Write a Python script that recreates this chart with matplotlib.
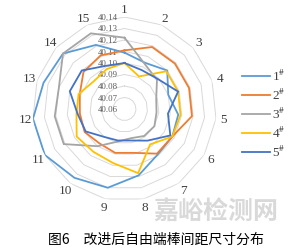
import numpy as np
import matplotlib
matplotlib.use("Agg")
import matplotlib.pyplot as plt
from matplotlib.lines import Line2D
from matplotlib.transforms import offset_copy

plt.rcParams['mathtext.fontset'] = 'stix'

categories = [str(i) for i in range(1, 16)]
series_names = ['1', '2', '3', '4', '5']
s1 = [40.109, 40.104, 40.110, 40.100, 40.107, 40.108, 40.109, 40.119, 40.130, 40.134, 40.140, 40.140, 40.134, 40.132, 40.121]
s2 = [40.111, 40.119, 40.119, 40.119, 40.119, 40.108, 40.108, 40.099, 40.099, 40.097, 40.100, 40.099, 40.101, 40.108, 40.111]
s3 = [40.122, 40.103, 40.098, 40.089, 40.088, 40.090, 40.089, 40.086, 40.089, 40.100, 40.121, 40.121, 40.120, 40.132, 40.132]
s4 = [40.100, 40.091, 40.109, 40.109, 40.109, 40.108, 40.098, 40.117, 40.108, 40.106, 40.108, 40.102, 40.102, 40.096, 40.098]
s5 = [40.100, 40.097, 40.099, 40.109, 40.098, 40.106, 40.094, 40.088, 40.088, 40.090, 40.099, 40.101, 40.110, 40.110, 40.101]
ring_values = [40.06, 40.07, 40.08, 40.09, 40.10, 40.11, 40.12, 40.13, 40.14]
colors = ['#5B9BD5', '#ED7D31', '#A5A5A5', '#FFC000', '#4472C4']
title = '图6\u3000改进后自由端棒间距尺寸分布'

W, H = 300, 253
fig = plt.figure(figsize=(W / 100, H / 100), dpi=100)
cx, cy, R = 124.5, 110, 92
ax = fig.add_axes([(cx - R) / W, 1 - (cy + R) / H, 2 * R / W, 2 * R / H], projection='polar')
ax.set_theta_zero_location('N')
ax.set_theta_direction(-1)
ax.set_ylim(ring_values[0], ring_values[-1])
ax.grid(False)
ax.spines['polar'].set_visible(False)
ax.set_xticks([])
ax.set_yticks([])
ax.patch.set_alpha(0)

n = len(categories)
theta = np.arange(n) * 2 * np.pi / n
theta_c = np.append(theta, theta[0])

for v in ring_values[1:]:
    ax.plot(theta_c, [v] * (n + 1), color='#D9D9D9', lw=0.7, zorder=1)

for vals, c in zip([s1, s2, s3, s4, s5], colors):
    ax.plot(theta_c, list(vals) + [vals[0]], color=c, lw=1.3, zorder=3, solid_joinstyle='miter')

lab_r = ring_values[0] + (ring_values[-1] - ring_values[0]) * 100 / 92
for t, lab in zip(theta, categories):
    ax.text(t, lab_r, lab, ha='center', va='center', fontsize=9.5,
            family='Liberation Serif', color='#404040', clip_on=False)

tr = offset_copy(ax.transData, fig=fig, x=-7, y=0, units='dots')
for v in ring_values:
    ax.text(0, v, f'{v:.2f}', transform=tr, ha='right', va='center', fontsize=6.3,
            family='Liberation Serif', color='#595959', zorder=2)

# legend
for i, (name, c) in enumerate(zip(series_names, colors)):
    y = 1 - (76.7 + 19 * i) / H
    fig.add_artist(Line2D([241.7 / W, 270 / W], [y, y], color=c, lw=1.3))
    fig.text(272.5 / W, y, name + r'$^{\#}$', ha='left', va='center', fontsize=9.5,
             family='Liberation Serif', color='#404040')

fig.text(216 / W, 1 - 212 / H, '嘉峪检测网', ha='center', va='center', fontsize=18,
         family='Noto Sans CJK SC', weight='bold', color='#D0D0D0', alpha=0.8, zorder=0)
fig.text(156 / W, 1 - 240 / H, title, ha='center', va='center', fontsize=10,
         family=['Noto Sans CJK SC', 'DejaVu Sans'], color='black')

fig.savefig('out.png', dpi=100)
